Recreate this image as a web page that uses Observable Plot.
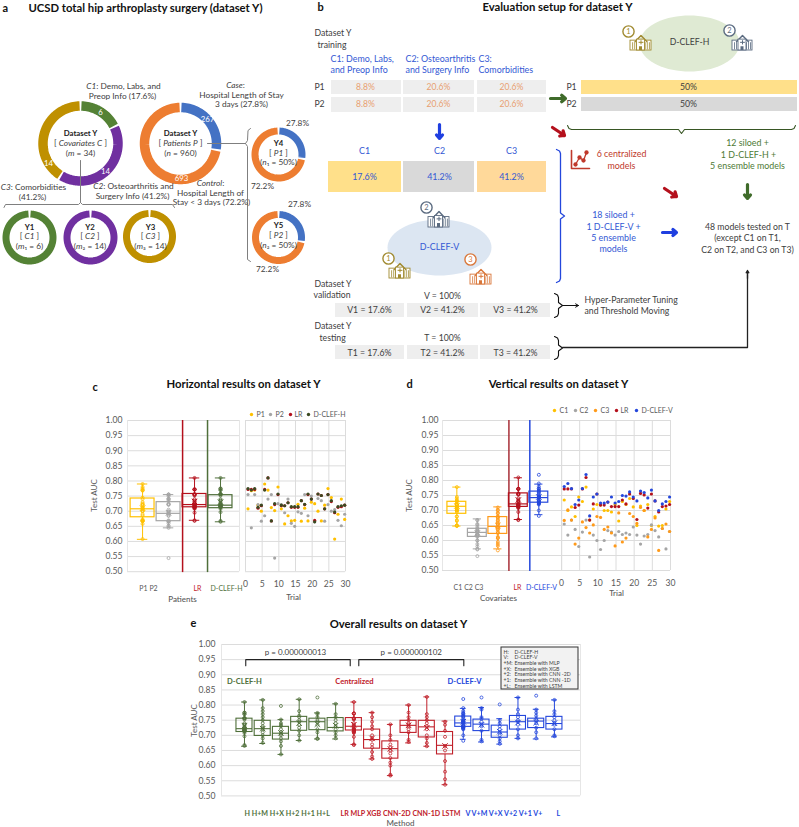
<!DOCTYPE html>
<html><head><meta charset="utf-8">
<script src="https://cdn.jsdelivr.net/npm/d3@7"></script>
<script src="https://cdn.jsdelivr.net/npm/@observablehq/plot@0.6"></script>
<style>
html,body{margin:0;padding:0;background:#fff}
#page{position:relative;width:799px;height:827px;overflow:hidden}
#page svg{position:absolute;overflow:visible}
</style></head><body><div id="page"></div>
<script>
// ---------- values ----------
const yTicks=[0.5,0.55,0.6,0.65,0.7,0.75,0.8,0.85,0.9,0.95,1];
const trialTicks=[0,5,10,15,20,25,30];

const covariateCounts=[6,14,14];
const patientCounts=[267,693];
const patientShares=[27.8,72.2];

const seriesP1=[.708,.768,.77,.72,.70,.79,.77,.712,.702,.78,.708,.658,.685,.668,.67,.723,.667,.71,.668,.73,.725,.70,.668,.72,.775,.745,.608,.69,.74,.673];
const seriesP2=[.755,.645,.755,.722,.667,.685,.74,.755,.545,.725,.722,.695,.74,.66,.65,.698,.693,.755,.685,.75,.665,.742,.735,.667,.722,.70,.705,.67,.652,.69];
const seriesLR=[.772,.772,.772,.71,.718,.772,.81,.668,.722,.755,.718,.718,.728,.713,.713,.713,.735,.722,.755,.74,.67,.757,.752,.708,.755,.732,.695,.713,.715,.72];
const seriesH=[.775,.77,.775,.713,.72,.77,.81,.668,.725,.757,.72,.718,.728,.715,.715,.715,.735,.723,.757,.74,.665,.757,.752,.708,.755,.735,.697,.715,.718,.72];
const seriesC1=[.735,.70,.712,.68,.745,.73,.778,.668,.705,.72,.718,.70,.70,.695,.72,.665,.73,.72,.74,.712,.65,.715,.70,.72,.65,.68,.648,.65,.705,.73];
const seriesC2=[.655,.618,.668,.637,.58,.628,.668,.545,.618,.60,.57,.60,.633,.628,.618,.63,.62,.625,.62,.645,.618,.588,.615,.62,.652,.633,.612,.64,.572,.63];
const seriesC3=[.667,.702,.668,.588,.608,.662,.643,.625,.652,.68,.677,.637,.645,.625,.582,.692,.595,.608,.69,.68,.657,.71,.70,.612,.637,.675,.567,.64,.655,.63];
const seriesV=[.78,.79,.773,.72,.735,.773,.82,.682,.745,.755,.725,.725,.728,.745,.725,.73,.75,.748,.762,.745,.732,.765,.76,.742,.768,.732,.70,.722,.73,.745];

const cNames=["P1","P2","LR","D-CLEF-H"];
const cQ1=[.68,.667,.713,.71], cMed=[.708,.693,.722,.72], cQ3=[.742,.73,.757,.753];
const cLo=[.607,.645,.67,.665], cHi=[.79,.755,.81,.81], cMean=[.71,.695,.732,.73];
const cOutliers=[[],[.545],[],[]];

const dNames=["C1","C2","C3","LR","D-CLEF-V"];
const dQ1=[.689,.612,.622,.712,.726], dMed=[.714,.627,.647,.722,.743], dQ3=[.729,.639,.678,.757,.763];
const dLo=[.648,.572,.572,.67,.686], dHi=[.778,.672,.712,.809,.788], dMean=[.715,.625,.65,.735,.745];
const dOutliers=[[],[.548],[],[],[.819]];

const eNames=["H","H+M","H+X","H+2","H+1","H+L","LR","MLP","XGB","CNN-2D","CNN-1D","LSTM","V","V+M","V+X","V+2","V+1","V+L"];
const eQ1=[.711,.698,.686,.715,.717,.713,.716,.656,.623,.708,.693,.637,.728,.714,.692,.719,.724,.719];
const eMed=[.722,.722,.707,.745,.745,.726,.73,.686,.656,.733,.728,.667,.741,.737,.711,.745,.747,.739];
const eQ3=[.755,.748,.728,.761,.755,.757,.757,.719,.68,.748,.748,.711,.762,.752,.732,.764,.755,.761];
const eLo=[.664,.673,.637,.683,.688,.688,.67,.622,.567,.675,.664,.537,.687,.678,.671,.69,.688,.695];
const eHi=[.81,.817,.752,.819,.774,.804,.81,.775,.736,.80,.827,.747,.789,.792,.755,.825,.786,.817];
const eMean=[.732,.722,.708,.74,.737,.732,.735,.69,.655,.733,.725,.665,.745,.735,.712,.742,.742,.74];
const eOutliers=[[],[],[.797],[],[.825],[],[],[],[],[],[],[],[.82],[.825],[.802],[],[.831],[]];
const ePoints=[seriesH,
 [.675,.69,.70,.71,.72,.725,.73,.74,.75,.76,.77,.78,.79,.817],
 [.637,.665,.68,.69,.70,.705,.71,.72,.73,.735,.74,.752],
 [.683,.70,.715,.725,.735,.745,.75,.76,.765,.78,.819],
 [.688,.69,.71,.72,.735,.745,.75,.76,.77,.774],
 [.69,.70,.71,.72,.73,.74,.75,.76,.77,.804],
 seriesLR,
 [.622,.63,.645,.66,.67,.685,.69,.70,.72,.73,.745,.76,.775],
 [.567,.57,.60,.61,.625,.64,.65,.66,.67,.685,.70,.736],
 [.678,.685,.71,.72,.73,.735,.74,.75,.76,.775,.80],
 [.664,.675,.69,.70,.72,.73,.74,.75,.76,.77,.827],
 [.537,.555,.58,.615,.65,.665,.695,.715,.735,.745],
 seriesV.filter(v=>v<.815),
 [.68,.685,.715,.73,.735,.745,.755,.76,.785,.79],
 [.672,.68,.69,.70,.71,.72,.73,.74,.75],
 [.69,.70,.72,.735,.745,.75,.76,.77,.785,.825],
 [.69,.71,.725,.74,.75,.755,.765,.775,.785],
 [.697,.70,.72,.735,.74,.75,.76,.77,.78,.817]];

// ---------- colours ----------
const GREEN="#4f6f3a",RED="#c0202a",BLUE="#2447dc",YEL="#ffc000",GREY="#a5a5a5",ORG="#ff9a1a",DKG="#3b4a22",DRED="#b4101c";
const TXT="#404040",LBL="#595959",TBLUE="#3358d4",TGRN="#4e7a35",TRED="#c0392b";
const cColors=[YEL,GREY,DRED,GREEN];
const dColors=[YEL,GREY,ORG,DRED,BLUE];
const eColors=eNames.map((_,i)=>i<6?GREEN:i<12?RED:BLUE);
const FONT="Lato, 'Noto Sans', sans-serif";

const page=document.getElementById("page");
function place(svg,left,top){svg.style.left=left+"px";svg.style.top=top+"px";page.appendChild(svg);return svg;}

function rowsOf(names,q1,med,q3,lo,hi,mean,colors){
  return names.map((n,i)=>({name:n,pos:i+1,q1:q1[i],med:med[i],q3:q3[i],lo:lo[i],hi:hi[i],mean:mean[i],color:colors[i]}));
}
function boxMarks(rows,points,outliers,hw,cap,r,w){
  const pts=rows.flatMap((b,i)=>points[i].map(v=>({pos:b.pos,v,color:b.color})));
  const out=rows.flatMap((b,i)=>outliers[i].map(v=>({pos:b.pos,v,color:b.color})));
  return [
    Plot.dot(pts,{x:"pos",y:"v",r,stroke:"color",fill:"none",strokeWidth:.8}),
    Plot.dot(out,{x:"pos",y:"v",r,stroke:"color",fill:"none",strokeWidth:.8}),
    Plot.ruleX(rows,{x:"pos",y1:"lo",y2:"q1",stroke:"color",strokeWidth:1}),
    Plot.ruleX(rows,{x:"pos",y1:"q3",y2:"hi",stroke:"color",strokeWidth:1}),
    Plot.ruleY(rows,{y:"lo",x1:d=>d.pos-cap,x2:d=>d.pos+cap,stroke:"color",strokeWidth:1}),
    Plot.ruleY(rows,{y:"hi",x1:d=>d.pos-cap,x2:d=>d.pos+cap,stroke:"color",strokeWidth:1}),
    Plot.rect(rows,{x1:d=>d.pos-hw,x2:d=>d.pos+hw,y1:"q1",y2:"q3",stroke:"color",fill:"none",strokeWidth:w}),
    Plot.ruleY(rows,{y:"med",x1:d=>d.pos-hw,x2:d=>d.pos+hw,stroke:"color",strokeWidth:w}),
    Plot.dot(rows,{x:"pos",y:"mean",symbol:"times",r:2.6,stroke:"color",strokeWidth:1})
  ];
}
function frame(x0,x1,yT,yB,xDomain,marks){
  const ml=36,mr=6,mt=6,mb=22;
  const svg=Plot.plot({width:x1-x0+ml+mr,height:yB-yT+mt+mb,marginLeft:ml,marginRight:mr,marginTop:mt,marginBottom:mb,
    style:{background:"transparent",fontFamily:FONT,maxWidth:"none"},
    x:{domain:xDomain,axis:null},y:{domain:[.5,1],axis:null},marks});
  return place(svg,x0-ml,yT-mt);
}
function gridMarks(xDomain){
  return [
    Plot.ruleY(yTicks,{stroke:"#dcdcdc",strokeWidth:1}),
    Plot.ruleX([xDomain[0],xDomain[1]],{stroke:"#e6e6e6",strokeWidth:1})
  ];
}
function yAxis(pad){return Plot.axisY(yTicks,{tickFormat:".2f",tickSize:0,tickPadding:pad,fontSize:8.6,fill:LBL,label:null,anchor:"left"});}

// ---- panel c
const cDom=[.42,4.73];
frame(127,239,419.5,570.7,cDom,[
  ...gridMarks(cDom),yAxis(5),
  Plot.ruleX([2.54],{y1:.497,y2:1,stroke:DRED,strokeWidth:1.5}),
  Plot.ruleX([3.5],{y1:.497,y2:1,stroke:GREEN,strokeWidth:1.5}),
  ...boxMarks(rowsOf(cNames,cQ1,cMed,cQ3,cLo,cHi,cMean,cColors),[seriesP1,seriesP2.filter(v=>v>.55),seriesLR,seriesH],cOutliers,.46,.2,1.5,1.2)
]);
function scatter(x0,x1,yT,yB,series){
  const dom=[0,30];
  frame(x0,x1,yT,yB,dom,[
    ...gridMarks(dom),
    Plot.ruleX(trialTicks,{stroke:"#dcdcdc",strokeWidth:1}),
    Plot.axisX(trialTicks,{tickSize:0,tickPadding:9,fontSize:8.6,fill:LBL,label:null,anchor:"bottom"}),
    ...series.map(([vals,color])=>Plot.dot(vals,{x:(d,i)=>i+.75,y:d=>d,r:1.6,fill:color}))
  ]);
}
scatter(245,345,419.5,570.7,[[seriesP1,YEL],[seriesP2,GREY],[seriesLR,DRED],[seriesH,DKG]]);

// ---- panel d
const dDom=[.30,6.12];
frame(441.7,561,420,570,dDom,[
  ...gridMarks(dDom),yAxis(4),
  Plot.ruleX([3.54],{y1:.497,y2:1,stroke:"#a83038",strokeWidth:1.5}),
  Plot.ruleX([4.56],{y1:.497,y2:1,stroke:BLUE,strokeWidth:1.5}),
  ...boxMarks(rowsOf(dNames,dQ1,dMed,dQ3,dLo,dHi,dMean,dColors),[seriesC1,seriesC2.filter(v=>v>.55),seriesC3,seriesLR,seriesV.filter(v=>v<.815)],dOutliers,.46,.2,1.5,1.2)
]);
scatter(561,670,420,570,[[seriesC1,YEL],[seriesC2,GREY],[seriesC3,ORG],[seriesLR,DRED],[seriesV,BLUE]]);

// ---- panel e
const eDom=[-.26,19.43];
frame(221,580,644.3,795.7,eDom,[
  ...gridMarks(eDom),yAxis(6),
  ...boxMarks(rowsOf(eNames,eQ1,eMed,eQ3,eLo,eHi,eMean,eColors),ePoints,eOutliers,.44,.16,1.5,1.1),
  Plot.line([[1.07,.93],[1.07,.95],[6.8,.95],[6.8,.93]],{stroke:"#222",strokeWidth:1.1}),
  Plot.line([[7.27,.93],[7.27,.95],[13.03,.95],[13.03,.93]],{stroke:"#222",strokeWidth:1.1}),
  Plot.text(["p = 0.000000013"],{x:3.8,y:.975,fontSize:8,fill:TXT}),
  Plot.text(["p = 0.000000102"],{x:10.15,y:.975,fontSize:8,fill:TXT}),
  Plot.text(["D-CLEF-H"],{x:1,y:.877,fontSize:7.6,fontWeight:"bold",fill:GREEN}),
  Plot.text(["Centralized"],{x:7.03,y:.877,fontSize:7.6,fontWeight:"bold",fill:RED}),
  Plot.text(["D-CLEF-V"],{x:13.07,y:.877,fontSize:7.6,fontWeight:"bold",fill:BLUE})
]);

// ---------- page layer: panels a and b, titles, labels ----------
function arcPts(cx,cy,r,f0,f1,gap){
  const a0=f0*2*Math.PI+gap/r/2,a1=f1*2*Math.PI-gap/r/2,n=Math.max(4,Math.ceil((a1-a0)*r/1.5)),out=[];
  for(let i=0;i<=n;i++){const a=a0+(a1-a0)*i/n;out.push([cx+r*Math.sin(a),cy-r*Math.cos(a)]);}
  return out;
}
function donut(cx,cy,r,w,vals,colors,gap=1.8){
  const tot=d3.sum(vals);let c=0;
  return vals.map((v,i)=>{const m=Plot.line(arcPts(cx,cy,r,c/tot,(c+v)/tot,gap),{stroke:colors[i],strokeWidth:w,strokeLinecap:"butt",strokeLinejoin:"round"});c+=v;return m;});
}
const PUR="#7030a0",GLD="#bf9000",DGRN="#548235",DBL="#4472c4",DOR="#ed7d31";
const brace=(x,y0,y1,tip,c,w=1.1)=>Plot.line([[x-4,y0],[x-1,y0+1.5],[x,y0+4],[x,(y0+y1)/2-3],[x+tip,(y0+y1)/2],[x,(y0+y1)/2+3],[x,y1-4],[x-1,y1-1.5],[x-4,y1]],{stroke:c,strokeWidth:w});
const hbrace=(y,x0,x1,tip,c,w=1.1)=>Plot.line([[x0,y-4],[x0+1.5,y-1],[x0+4,y],[(x0+x1)/2-3,y],[(x0+x1)/2,y+tip],[(x0+x1)/2+3,y],[x1-4,y],[x1-1.5,y-1],[x1,y-4]],{stroke:c,strokeWidth:w});
function ellipse(cx,cy,rx,ry,fill){const p=[];for(let a=0;a<=72;a++){p.push([cx+rx*Math.cos(a/36*Math.PI),cy+ry*Math.sin(a/36*Math.PI)]);}return Plot.line(p,{fill,stroke:"none"});}
function hospital(x0,y0,w,h,c,cx,cy,label){
  const yb=y0+h,yt=y0+h*.42,mid=x0+w/2,win=d3.range(1,10).map(i=>x0+i*w/10);
  return [
    Plot.rect([0],{x1:x0,x2:x0+w,y1:yt,y2:yb,fill:"#fff",stroke:c,strokeWidth:.9}),
    ...win.map(x=>Plot.line([[x,yt+2],[x,yb-1.5]],{stroke:c,strokeWidth:.8})),
    Plot.line([[mid-6,yt+1],[mid,y0+2],[mid+6,yt+1]],{stroke:c,strokeWidth:1.4}),
    Plot.rect([0],{x1:mid-4,x2:mid+4,y1:y0+h*.36,y2:yb,fill:"#fff",stroke:c,strokeWidth:.9}),
    Plot.line([[mid,y0+h*.42],[mid,y0+h*.62]],{stroke:c,strokeWidth:1}),
    Plot.line([[mid-2,y0+h*.52],[mid+2,y0+h*.52]],{stroke:c,strokeWidth:1}),
    Plot.rect([0],{x1:mid-1.5,x2:mid+1.5,y1:yb-h*.22,y2:yb,fill:c}),
    Plot.dot([[cx,cy]],{r:5.6,stroke:c,strokeWidth:1.4,fill:"#fff"}),
    Plot.text([label],{x:cx,y:cy,fontSize:7.5,fill:c})
  ];
}
const grayCells=[[331,401,80,94],[403,474,80,94],[477,546,80,94],[331,401,97,112],[403,474,97,112],[477,546,97,112],
  [335,404,303,317],[407,478,303,317],[480,550,303,317],[335,404,345,359],[407,478,345,359],[480,550,345,359]];
const colorCells=[[581,797,80,94,"#ffe08a"],[581,797,97,111,"#d9d9d9"],[328,401,161,192,"#ffe08a"],[403,474,161,192,"#d9d9d9"],[477,546,161,192,"#ffd99a"]];
const arrows=[[550,98,565,98,"#3f6b2a"],[439,124,439,138,"#1f3fe0"],[552,127,564,135,"#b4101c"],[664,188,676,196,"#b4101c"],[662,232,676,232,"#1f3fe0"],[747,184,747,198,"#3f6b2a"]];

// text rows: x, y, text
const donutLabels=[[100,112,String(covariateCounts[0])],[105,171,String(covariateCounts[1])],[48,163,String(covariateCounts[2])],[207,119,String(patientCounts[0])],[181,178,String(patientCounts[1])]];
const panelA=[
 [123,86,"*C1*: Demo, Labs, and"],[122,96,"Preop Info (17.6%)"],
 [235,85,"*Case*:"],[241,95,"Hospital Length of Stay"],[241,104,"3 days (27.8%)"],
 [80,143,"[ *Covariates C* ]"],[80,153,"(*m* = 34)"],[180,143,"[ *Patients P* ]"],[180,153,"(*n* = 960)"],
 [33,187,"*C3*: Comorbidities"],[32,197,"(41.2%)"],[133,186,"*C2*: Osteoarthritis and"],[132,196,"Surgery Info (41.2%)"],
 [210,183,"*Control*:"],[210,193,"Hospital Length of"],[211,202,"Stay < 3 days (72.2%)"],
 [29,236,"[ *C1* ]"],[29,246,"(*m*₁ = 6)"],[89.5,236,"[ *C2* ]"],[89.5,246,"(*m*₂ = 14)"],[150,236,"[ *C3* ]"],[150,246,"(*m*₃ = 14)"],
 [278,153,"[ *P1* ]"],[278,162,"(*n*₁ = 50%)"],[278,235,"[ *P2* ]"],[278,245,"(*n*₂ = 50%)"],
 [297,123,"27.8%"],[262,186,"72.2%"],[299,204,"27.8%"],[267,269,"72.2%"]];
const panelB=[
 [319,87,"P1"],[319,104,"P2"],[571,87,"P1"],[571,104,"P2"],
 [688,87,"50%"],[688,104,"50%"],[689,42,"D-CLEF-H"],
 [747,227,"48 models tested on T"],[747,238,"(except C1 on T1,"],[747,250,"C2 on T2, and C3 on T3)"],
 [442,296,"V = 100%"],[442,338,"T = 100%"],
 [369,310,"V1 = 17.6%"],[442,310,"V2 = 41.2%"],[515,310,"V3 = 41.2%"],[369,353,"T1 = 17.6%"],[442,353,"T2 = 41.2%"],[515,353,"T3 = 41.2%"]
];
const start75=[[314,33,"Dataset Y"],[317,45,"training"],[314,284,"Dataset Y"],[313,295,"validation"],[314,326,"Dataset Y"],[319,338,"testing"],
 [584,300,"Hyper-Parameter Tuning"],[584,311,"and Threshold Moving"]];
const boldMid=[[80,133,"Dataset Y"],[180,133,"Dataset Y"],[29,227,"Y1"],[89.5,227,"Y2"],[150,227,"Y3"],[278,143,"Y4"],[278,225,"Y5"]];
const blueStart=[[330,59,"C1: Demo, Labs,"],[330,70,"and Preop Info"],[405,59,"C2: Osteoarthritis"],[405,70,"and Surgery Info"],[478,59,"C3:"],[478,70,"Comorbidities"]];
const blueMid=[[364,151,"C1"],[439,151,"C2"],[511,151,"C3"],[364,177,"17.6%"],[439,177,"41.2%"],[511,177,"41.2%"],[439,247,"D-CLEF-V"],
 [613,215,"18 siloed +"],[613,227,"1 D-CLEF-V +"],[613,238,"5 ensemble"],[613,249,"models"]];
const orangeMid=[[365,87,"8.8%"],[438,87,"20.6%"],[511,87,"20.6%"],[365,104,"8.8%"],[438,104,"20.6%"],[511,104,"20.6%"]];
const greenMid=[[747,143,"12 siloed +"],[748,155,"1 D-CLEF-H +"],[747,166,"5 ensemble models"]];
const redMid=[[621,154,"6 centralized"],[621,166,"models"]];
const titles=[[145,8,"UCSD total hip arthroplasty surgery (dataset Y)"],[557,7,"Evaluation setup for dataset Y"],[243,384,"Horizontal results on dataset Y"],[558,384,"Vertical results on dataset Y"],[398,624,"Overall results on dataset Y"]];
const letters=[[2,8,"a"],[317,7,"b"],[92,387,"c"],[406,384,"d"],[190,623,"e"]];
const axisTitles=[[182,599,"Patients"],[293,597,"Trial"],[498,598,"Covariates"],[616,593,"Trial"],[400,823,"Method"]];
const testAUC=[[94,495],[409,495],[194,720]];
const legendDotsC=[[251,414,YEL],[270,414,GREY],[290,414,DRED],[308,414,DKG]];
const legendTextC=[[256,414,"P1"],[275,414,"P2"],[294,414,"LR"],[313,414,"D-CLEF-H"]];
const legendDotsD=[[554,410,YEL],[575,410,GREY],[595,410,ORG],[616,410,DRED],[636,410,BLUE]];
const legendTextD=[[559,410,"C1"],[579,410,"C2"],[600,410,"C3"],[620,410,"LR"],[641,410,"D-CLEF-V"]];
const catLabels=[[148,588,"P1 P2",LBL,"normal"],[197,588,"LR",RED,"bold"],[226,588,"D-CLEF-H",GREEN,"bold"],
 [468,587,"C1 C2 C3",LBL,"normal"],[517,587,"LR",RED,"bold"],[541,587,"D-CLEF-V",BLUE,"bold"]];
const methodLabels=[[244,813,"H H+M H+X H+2 H+1 H+L",GREEN],[340,813,"LR MLP XGB CNN-2D CNN-1D LSTM",RED],[465,813,"V V+M V+X V+2 V+1 V+",BLUE],[556,813,"L",BLUE]];
const legendKeys=["H:","V:","+M:","+X:","+2:","+1:","+L:"];
const legendVals=["D-CLEF-H","D-CLEF-V","Ensemble with MLP","Ensemble with XGB","Ensemble with CNN -2D","Ensemble with CNN -1D","Ensemble with LSTM"];

const X=d=>d[0],Y=d=>d[1],T=d=>d[2];
const txt=(rows,fs,fill,extra={})=>Plot.text(rows,{x:X,y:Y,text:T,fontSize:fs,fill,...extra});
const layer=Plot.plot({width:799,height:827,margin:0,style:{background:"transparent",fontFamily:FONT,maxWidth:"none"},
 x:{domain:[0,799],range:[0,799],axis:null},y:{domain:[0,827],range:[0,827],axis:null},
 marks:[
  ...donut(80,143,37.5,9.5,covariateCounts,[DGRN,PUR,GLD]),
  ...donut(180,143,36,9.5,patientCounts,[DBL,DOR]),
  ...donut(29,237,23.5,7,[1],[DGRN],2),
  ...donut(90,237,23.5,7,[1],[PUR],2),
  ...donut(149,236,23,7,[1],[GLD],2),
  ...donut(278,154,23.5,7,patientShares,[DBL,DOR]),
  ...donut(278,237,23,7,patientShares,[DBL,DOR]),
  txt(donutLabels,7.8,"#fff"),
  Plot.line([[80,160],[80,202],[78,204],[5,204],[3.5,207]],{stroke:"#7f7f7f",strokeWidth:1}),
  Plot.line([[80,202],[82,204],[172,204],[174,207]],{stroke:"#7f7f7f",strokeWidth:1}),
  Plot.line([[207,143],[245,143]],{stroke:"#7f7f7f",strokeWidth:1}),
  Plot.line([[250,128],[247.5,130],[247,140],[245,143],[247,146],[247,259],[250,261]],{stroke:"#7f7f7f",strokeWidth:1}),
  Plot.rect(grayCells,{x1:X,x2:Y,y1:d=>d[2],y2:d=>d[3],fill:"#eeeeee"}),
  Plot.rect(colorCells,{x1:X,x2:Y,y1:d=>d[2],y2:d=>d[3],fill:d=>d[4]}),
  ellipse(689,43,50,28,"#dfead3"),
  ellipse(439,247,52,28,"#dce6f2"),
  ...hospital(630,33,21,17,"#a08a30",628,31,"1"),
  ...hospital(732,33,20,17,"#5b6b80",729,30,"2"),
  ...hospital(428,209,21,18,"#5b6b80",426,207,"2"),
  ...hospital(389,261,21,17,"#a08a30",388,258,"1"),
  ...hospital(470,267,21,17,"#d9773a",470,259,"3"),
  Plot.arrow(arrows,{x1:d=>d[0],y1:d=>d[1],x2:d=>d[2],y2:d=>d[3],stroke:d=>d[4],strokeWidth:3.2,headLength:6,headAngle:80}),
  hbrace(129,567,795,4,"#375623"),
  brace(560,149,282,4,"#2447dc",1.3),
  brace(558,293,317,4,"#111"),
  brace(558,336,359,4,"#111"),
  Plot.arrow([[562,305,578,305]],{x1:d=>d[0],y1:d=>d[1],x2:d=>d[2],y2:d=>d[3],stroke:"#111",strokeWidth:1,headLength:5}),
  Plot.line([[562,347],[747,347],[747,274]],{stroke:"#222",strokeWidth:1.3}),
  Plot.arrow([[747,278,747,270]],{x1:d=>d[0],y1:d=>d[1],x2:d=>d[2],y2:d=>d[3],stroke:"#222",strokeWidth:1.3,headLength:5}),
  Plot.line([[571,150],[571,168],[589,168]],{stroke:TRED,strokeWidth:1.6}),
  Plot.line([[575,164],[579,157],[583,160],[586,152]],{stroke:TRED,strokeWidth:1.3,marker:"dot"}),
  txt(panelA,8.3,TXT),
  txt(panelB,8.7,TXT),
  txt(start75,8.7,TXT,{textAnchor:"start"}),
  txt(boldMid,7.8,"#222",{fontWeight:"bold"}),
  txt(blueStart,8.9,TBLUE,{textAnchor:"start"}),
  txt(blueMid,8.9,TBLUE),
  txt(orangeMid,8.6,"#e8a070"),
  txt(greenMid,8.9,TGRN),
  txt(redMid,8.9,TRED),
  txt(titles,11.3,"#111",{fontWeight:"bold"}),
  txt(letters,11,"#111",{fontWeight:"bold",textAnchor:"start"}),
  txt(axisTitles,8,LBL,{fontWeight:"500"}),
  Plot.text(testAUC,{x:X,y:Y,text:()=>"Test AUC",rotate:-90,fontSize:8,fill:LBL}),
  Plot.dot(legendDotsC,{x:X,y:Y,r:1.7,fill:T}),
  Plot.dot(legendDotsD,{x:X,y:Y,r:1.7,fill:T}),
  txt(legendTextC,7,LBL,{textAnchor:"start"}),
  txt(legendTextD,7,LBL,{textAnchor:"start"}),
  Plot.text(catLabels,{x:X,y:Y,text:T,fontSize:7,fill:d=>d[3],fontWeight:d=>d[4]}),
  Plot.text(methodLabels,{x:X,y:Y,text:T,fontSize:7.1,fontWeight:"bold",fill:d=>d[3],textAnchor:"start"}),
  Plot.rect([0],{x1:501,x2:578,y1:647,y2:689,fill:"#f2f2f2",stroke:"#333",strokeWidth:1}),
  Plot.text(legendKeys,{x:()=>503,y:(d,i)=>651.5+i*5.7,text:d=>d,fontSize:5.2,fill:TXT,textAnchor:"start"}),
  Plot.text(legendVals,{x:()=>514,y:(d,i)=>651.5+i*5.7,text:d=>d,fontSize:5.2,fill:TXT,textAnchor:"start"})
 ]});
place(layer,0,0);

// italic runs marked with *...* become tspans, keeping the text real
d3.select(layer).selectAll("text").each(function(){
  const s=this.textContent; if(!s.includes("*")) return;
  const parts=s.split("*"); this.textContent="";
  parts.forEach((p,i)=>{ if(!p) return; const t=document.createElementNS("http://www.w3.org/2000/svg","tspan"); t.textContent=p; if(i%2) t.setAttribute("font-style","italic"); this.appendChild(t); });
});
</script></body></html>
